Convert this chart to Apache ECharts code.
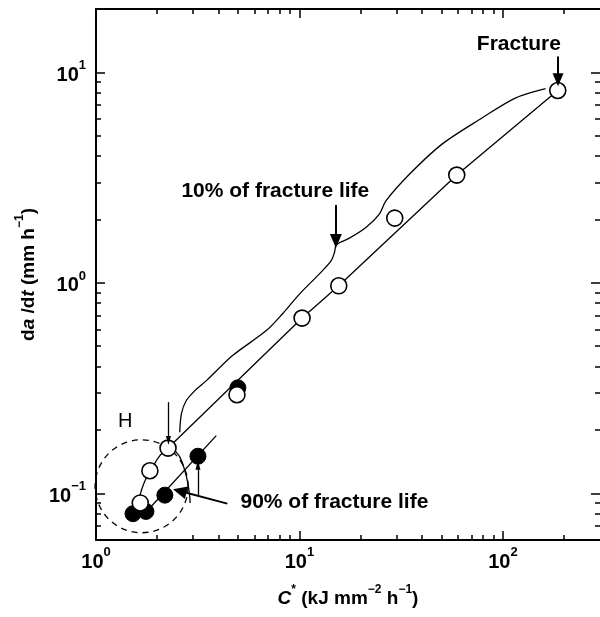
<!DOCTYPE html>
<html><head><meta charset="utf-8">
<script src="https://cdn.jsdelivr.net/npm/echarts@6/dist/echarts.min.js"></script>
<style>html,body{margin:0;padding:0;background:#fff}#c{width:600px;height:617px}</style>
</head><body><div id="c"></div>
<script>
// ---- axis ranges and ticks ----
const xMin = 1, xMax = 300;
const yMin = 0.06, yMax = 20;
const xMajorTicks = [1, 10, 100];
const xMinorTicks = [2, 3, 4, 5, 6, 7, 8, 9, 20, 30, 40, 50, 60, 70, 80, 90, 200];
const yMajorTicks = [0.1, 1, 10];
const yMinorTicks = [0.07, 0.08, 0.09, 0.2, 0.3, 0.4, 0.5, 0.6, 0.7, 0.8, 0.9, 2, 3, 4, 5, 6, 7, 8, 9];

// ---- data (C*, da/dt) ----
const openCircles = [[2.26, 0.164], [4.93, 0.294], [10.3, 0.68], [15.6, 0.968], [29.4, 2.03], [59.3, 3.25], [186, 8.2], [1.84, 0.128], [1.65, 0.090]];
const filledCircles = [[4.98, 0.317], [3.17, 0.150], [2.18, 0.098], [1.76, 0.082], [1.52, 0.080]];
const mainLine = [[2.26, 0.164], [10.3, 0.68], [15.6, 0.968], [59.3, 3.25], [186, 8.2]];
const lowerCurve = [[1.61, 0.089], [1.67, 0.103], [1.77, 0.119], [1.88, 0.131], [2.06, 0.151], [2.26, 0.164]];
const filledLine = [[1.67, 0.077], [3.90, 0.188]];
const upperCurve = [[2.58, 0.195], [2.63, 0.239], [2.78, 0.276], [3.12, 0.313], [3.49, 0.343], [4.69, 0.451], [6.87, 0.593], [8.26, 0.713], [10, 0.884], [12.5, 1.10], [14.3, 1.27], [14.85, 1.39], [15.1, 1.50], [15.7, 1.55], [17.6, 1.63], [21.2, 1.83], [24.7, 2.12], [26.6, 2.45], [34.6, 3.27], [50.2, 4.56], [78.9, 6.07], [115, 7.55], [162, 8.37]];
const returnArc = [[2.36, 0.171], [2.44, 0.160], [2.58, 0.149], [2.73, 0.1285], [2.83, 0.111], [2.89, 0.096], [2.90, 0.090]];
const regionH = [[1.675, 0.108]];

// ---- annotation arrows [from, to] ----
const arrow10 = [[15.1, 2.34], [15.1, 1.58]];
const arrowFracture = [[186.6, 11.9], [186.6, 9.23]];
const arrowDown = [[2.27, 0.271], [2.27, 0.178]];
const arrowUp = [[3.17, 0.098], [3.17, 0.136]];
const arrow90 = [[4.42, 0.0893], [2.58, 0.1026]];

// ---- annotation texts ----
const noteTexts = ['Fracture', '10% of fracture life', '90% of fracture life'];
const noteX = [119.8, 7.61, 14.85];
const noteY = [13.6, 2.73, 0.091];
const hText = 'H';
const hPos = [1.39, 0.22];

const FONT = '"Liberation Sans", Arial, Helvetica, sans-serif';
const lg = Math.log10;

function supLabel(v) {
  const e = Math.round(v);
  return '{b|10}{s|' + (e < 0 ? '\u2212' + (-e) : e) + '}';
}
const tickRich = {
  b: { fontSize: 20, fontWeight: 'bold', fontFamily: FONT, color: '#000', lineHeight: 26, verticalAlign: 'bottom' },
  s: { fontSize: 13, fontWeight: 'bold', fontFamily: FONT, color: '#000', lineHeight: 14, verticalAlign: 'top' }
};
const nameRich = {
  r: { fontSize: 19, fontWeight: 'bold', fontFamily: FONT, color: '#000', lineHeight: 24, verticalAlign: 'bottom' },
  i: { fontSize: 19, fontWeight: 'bold', fontStyle: 'italic', fontFamily: FONT, color: '#000', lineHeight: 24, verticalAlign: 'bottom' },
  s: { fontSize: 12, fontWeight: 'bold', fontFamily: FONT, color: '#000', lineHeight: 16, verticalAlign: 'top' }
};

function tickAxis(pos, lo, hi, vals, len, withLabels, isX, showLine) {
  const a = {
    type: 'value', min: lg(lo), max: lg(hi), position: pos,
    axisLine: { show: !!showLine, onZero: false, lineStyle: { color: '#000', width: 2 } },
    axisTick: { show: true, inside: true, length: len, customValues: vals.map(lg), lineStyle: { color: '#000', width: 1.5 } },
    axisLabel: { show: false },
    splitLine: { show: false }
  };
  if (withLabels) {
    a.axisLabel = { show: true, customValues: vals.map(lg), formatter: supLabel, rich: tickRich, margin: isX ? 6 : 10 };
  }
  return a;
}

const xAxes = [
  { type: 'log', logBase: 10, min: xMin, max: xMax, position: 'bottom',
    axisLine: { show: true, onZero: false, lineStyle: { color: '#000', width: 2 } },
    axisTick: { show: false }, axisLabel: { show: false }, splitLine: { show: false },
    minorTick: { show: false }, minorSplitLine: { show: false },
    name: '{i|C}{s|*}{r| (kJ mm}{s|\u22122}{r| h}{s|\u22121}{r|)}',
    nameLocation: 'middle', nameGap: 44,
    nameTextStyle: { rich: nameRich }
  },
  tickAxis('bottom', xMin, xMax, xMajorTicks, 9, true, true),
  tickAxis('bottom', xMin, xMax, xMinorTicks, 5, false, true),
  tickAxis('top', xMin, xMax, xMajorTicks, 9, false, true, true),
  tickAxis('top', xMin, xMax, xMinorTicks, 5, false, true)
];
const yAxes = [
  { type: 'log', logBase: 10, min: yMin, max: yMax, position: 'left',
    axisLine: { show: true, onZero: false, lineStyle: { color: '#000', width: 2 } },
    axisTick: { show: false }, axisLabel: { show: false }, splitLine: { show: false },
    minorTick: { show: false }, minorSplitLine: { show: false },
    name: '{r|d}{i|a}{r| /d}{i|t}{r| (mm h}{s|\u22121}{r|)}',
    nameLocation: 'middle', nameGap: 58, nameRotate: 90,
    nameTextStyle: { rich: nameRich }
  },
  tickAxis('left', yMin, yMax, yMajorTicks, 9, true, false),
  tickAxis('left', yMin, yMax, yMinorTicks, 5, false, false),
  tickAxis('right', yMin, yMax, yMajorTicks, 9, false, false),
  tickAxis('right', yMin, yMax, yMinorTicks, 5, false, false)
];

const lineStyleThin = { color: '#000', width: 1.3, opacity: 1 };
function lineSeries(data, smooth) {
  return { type: 'line', data: data, smooth: smooth, symbol: 'none', lineStyle: lineStyleThin, z: 2, silent: true, clip: false };
}
function arrowItem(a, size, width) {
  return [
    { coord: a[0], symbol: 'none', lineStyle: { width: width, color: '#000', type: 'solid', opacity: 1 } },
    { coord: a[1], symbol: 'triangle', symbolSize: size }
  ];
}
const labelBase = { show: true, position: 'inside', formatter: '{b}', color: '#000', opacity: 1, fontFamily: FONT };

const option = {
  animation: false,
  backgroundColor: '#fff',
  grid: { left: 96, top: 9, width: 505, height: 531, containLabel: false },
  xAxis: xAxes,
  yAxis: yAxes,
  series: [
    { type: 'scatter', data: regionH, symbol: 'circle', symbolSize: 93, z: 1, silent: true,
      itemStyle: { color: 'rgba(0,0,0,0)', borderColor: '#000', borderWidth: 1.3, borderType: [6, 5], opacity: 1 } },
    lineSeries(mainLine, false),
    lineSeries(lowerCurve, true),
    lineSeries(filledLine, false),
    lineSeries(upperCurve, 0.3),
    lineSeries(returnArc, true),
    { type: 'line', data: [], symbol: 'none', silent: true,
      markLine: {
        silent: true, animation: false, symbol: ['none', 'triangle'],
        label: { show: false }, emphasis: { disabled: true },
        lineStyle: { color: '#000', type: 'solid', width: 2, opacity: 1 },
        itemStyle: { color: '#000', opacity: 1 },
        data: [
          arrowItem(arrow10, [12, 14], 2),
          arrowItem(arrowFracture, [11, 13], 2),
          arrowItem(arrow90, [13, 14], 2),
          arrowItem(arrowDown, [5, 9], 1.3),
          arrowItem(arrowUp, [5, 9], 1.3)
        ]
      }
    },
    { type: 'scatter', data: filledCircles, symbol: 'circle', symbolSize: 16, z: 3, silent: true,
      itemStyle: { color: '#000', borderColor: '#000', borderWidth: 1, opacity: 1 } },
    { type: 'scatter', data: openCircles, symbol: 'circle', symbolSize: 16, z: 4, silent: true,
      itemStyle: { color: '#fff', borderColor: '#000', borderWidth: 1.6, opacity: 1 } },
    { type: 'scatter', symbolSize: 0, silent: true, z: 5, itemStyle: { opacity: 1 },
      data: noteTexts.map((t, i) => ({ name: t, value: [noteX[i], noteY[i]] })),
      label: Object.assign({}, labelBase, { fontSize: 21, fontWeight: 'bold' }) },
    { type: 'scatter', symbolSize: 0, silent: true, z: 5, itemStyle: { opacity: 1 },
      data: [{ name: hText, value: hPos }],
      label: Object.assign({}, labelBase, { fontSize: 20 }) }
  ]
};
const chart = echarts.init(document.getElementById('c'), null, { renderer: 'canvas' });
chart.setOption(option);
</script>
</body></html>
